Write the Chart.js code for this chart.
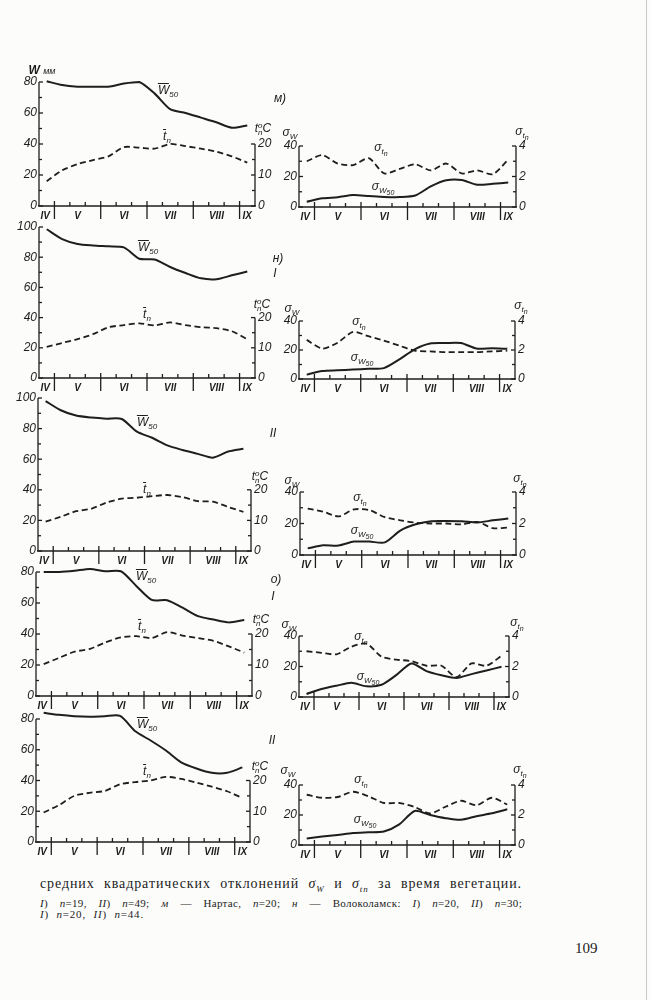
<!DOCTYPE html>
<html lang="ru">
<head>
<meta charset="utf-8">
<script src="https://cdn.jsdelivr.net/npm/chart.js@4.4.1/dist/chart.umd.min.js"></script>
<style>
  body { margin: 0; background: #fff; }
  #page { position: relative; width: 650px; height: 1000px; background: #fcfcfb; overflow: hidden;
          font-family: "Liberation Sans", Arial, sans-serif; color: #1c1c1c; }
  #page canvas { position: absolute; }
  .note { position: absolute; transform: translate(-50%, -50%); font-style: italic; font-size: 12px;
          white-space: nowrap; line-height: 1; }
  .note sub { font-size: 8px; vertical-align: -3px; }
  .ss { font-size: 7px; position: relative; top: 2px; }
  .ov { display: inline-block; border-top: 1px solid #1e1e1e; line-height: 0.95; padding-top: 1px; }
  .deg { display: inline-block; vertical-align: middle; font-size: 8px; line-height: 7px; text-align: left; }
  .cap { position: absolute; left: 40px; width: 482px; font-family: "Liberation Serif", "DejaVu Serif", serif;
         text-align: justify; text-align-last: justify; white-space: nowrap; }
  .cap sub { font-size: 9px; }
  .edge { position: absolute; left: 646px; top: 0; width: 1px; height: 1000px; background: #c8c8c8; }
</style>
</head>
<body>
<div id="page"></div>
<script>
const INK = '#1e1e1e';

// decade midpoints, counted from 1 April (3 decades per month)
const decades = [2.5, 3.5, 4.5, 5.5, 6.5, 7.5, 8.5, 9.5, 10.5, 11.5, 12.5, 13.5, 14.5, 15.5];
const monthNames = ['IV', 'V', 'VI', 'VII', 'VIII', 'IX'];
const monthCentres = [2.4, 4.5, 7.5, 10.5, 13.5, 15.5];
const monthStarts = [3, 6, 9, 12, 15];

const wTicks80 = [0, 20, 40, 60, 80];
const wTicks100 = [0, 20, 40, 60, 80, 100];
const tTicks = [0, 10, 20];
const swTicks = [0, 20, 40];
const stTicks = [0, 2, 4];

// м) Нартас
const w50_m = [80.5, 78, 77, 77, 77, 79, 80, 72.5, 62.5, 60, 57, 54, 50.5, 52];
const tn_m  = [8, 11.5, 13.5, 14.8, 16, 19, 18.8, 18.5, 20, 19.3, 18.5, 17.5, 16, 14];
const sw_m  = [3.5, 5.7, 6.4, 7.8, 7.2, 6.6, 6.5, 7.5, 13.5, 17.5, 17.7, 14.6, 15.2, 16];
const st_m  = [3.0, 3.4, 2.85, 2.75, 3.2, 2.2, 2.5, 2.8, 2.4, 2.85, 2.2, 2.4, 2.15, 3.1];

// н) Волоколамск, I
const w50_n1 = [98.5, 92, 88.8, 87.8, 87.2, 86.5, 79, 78.5, 73.5, 69.5, 66, 65.4, 68, 70.5];
const tn_n1  = [10.3, 11.6, 12.9, 14.5, 16.8, 17.5, 18.1, 17.4, 18.4, 17.5, 16.8, 16.5, 15.5, 12.8];
const sw_n1  = [3, 5.5, 6, 6.5, 7, 7.5, 13.5, 20.5, 24.5, 24.8, 24.8, 21, 21.2, 20.8];
const st_n1  = [2.7, 2.1, 2.5, 3.25, 2.95, 2.65, 2.3, 1.95, 1.9, 1.85, 1.85, 1.85, 1.9, 1.95];

// н) Волоколамск, II
const w50_n2 = [98, 92, 88.5, 87.2, 86.5, 86.3, 78, 74, 69, 66, 63.5, 61, 65, 66.8];
const tn_n2  = [9.6, 11.2, 13, 13.8, 15.8, 17.1, 17.4, 17.9, 18.3, 17.6, 16.3, 16.1, 14.4, 12.8];
const sw_n2  = [4.2, 6.2, 6, 8.5, 8.5, 8, 15.5, 19.5, 21.5, 21.6, 21.4, 20.6, 22, 23.2];
const st_n2  = [2.95, 2.75, 2.45, 2.9, 2.85, 2.4, 2.2, 2.05, 2.0, 2.0, 1.95, 2.1, 1.7, 1.75];

// о) I
const w50_o1 = [80, 80, 80.8, 82, 80.5, 80.5, 71, 62, 61.8, 57, 51.5, 49.3, 47.5, 49];
const tn_o1  = [10.3, 12.3, 14.3, 15.2, 17.3, 18.9, 19.3, 18.7, 20.6, 19.5, 18.7, 17.8, 16, 14];
const sw_o1  = [2, 5.2, 7.4, 9.3, 7, 8, 14.5, 22, 17, 14.3, 12.5, 15, 17.4, 19.8];
const st_o1  = [3.0, 2.9, 2.8, 3.3, 3.5, 2.65, 2.45, 2.35, 2.05, 2.05, 1.3, 2.2, 2.05, 2.7];

// о) II
const w50_o2 = [84, 82.7, 81.8, 81.5, 81.8, 82, 72, 66, 59.5, 51.8, 47.8, 45, 45, 48.5];
const tn_o2  = [9.6, 12, 15, 16, 16.6, 18.8, 19.5, 20, 21.2, 20.5, 19.3, 18, 16.5, 14.3];
const sw_o2  = [4.3, 5.6, 6.7, 8, 8.5, 9, 13.8, 22.7, 20, 17.9, 16.8, 19.2, 21.1, 23.8];
const st_o2  = [3.35, 3.15, 3.2, 3.55, 3.25, 2.8, 2.8, 2.53, 2.1, 2.55, 2.95, 2.65, 3.15, 2.7];

// plot boxes on the page: [left, top, right, bottom]
const panels = [
  { kind: 'mean', top: 80,  box: [39, 82, 255, 206],  solid: w50_m,  dashed: tn_m },
  { kind: 'sd',   top: 40,  box: [299, 146, 516, 207], solid: sw_m,   dashed: st_m },
  { kind: 'mean', top: 100, box: [39, 227, 255, 378],  solid: w50_n1, dashed: tn_n1 },
  { kind: 'sd',   top: 40,  box: [299, 321, 515, 379], solid: sw_n1,  dashed: st_n1 },
  { kind: 'mean', top: 100, box: [38, 398, 251, 551],  solid: w50_n2, dashed: tn_n2 },
  { kind: 'sd',   top: 40,  box: [300, 492, 516, 555], solid: sw_n2,  dashed: st_n2 },
  { kind: 'mean', top: 80,  box: [36, 572, 252, 696],  solid: w50_o1, dashed: tn_o1 },
  { kind: 'sd',   top: 40,  box: [299, 636, 509, 697], solid: sw_o1,  dashed: st_o1 },
  { kind: 'mean', top: 80,  box: [36, 719, 250, 842],  solid: w50_o2, dashed: tn_o2 },
  { kind: 'sd',   top: 40,  box: [299, 785, 515, 845], solid: sw_o2,  dashed: st_o2 }
];

const paperAxes = {
  id: 'paperAxes',
  afterDraw(chart, args, o) {
    const { ctx, chartArea: a, scales: { x, y, yt } } = chart;
    const leftTicks = o.kind === 'mean' ? (o.top === 100 ? wTicks100 : wTicks80) : swTicks;
    const rightTicks = o.kind === 'mean' ? tTicks : stTicks;
    const seg = (x1, y1, x2, y2) => { ctx.beginPath(); ctx.moveTo(x1, y1); ctx.lineTo(x2, y2); ctx.stroke(); };
    ctx.save();
    ctx.strokeStyle = INK;
    ctx.fillStyle = INK;
    ctx.lineWidth = 1.3;
    seg(a.left - 1, a.bottom, a.right + 1, a.bottom);
    seg(a.left, a.bottom, a.left, y.getPixelForValue(leftTicks[leftTicks.length - 1]));
    seg(a.right, a.bottom, a.right, yt.getPixelForValue(rightTicks[rightTicks.length - 1]));

    ctx.font = 'italic 12px "Liberation Sans", sans-serif';
    ctx.textBaseline = 'middle';
    ctx.textAlign = 'right';
    leftTicks.forEach((v, i) => {
      const py = y.getPixelForValue(v);
      seg(a.left, py, a.left + 4, py);
      ctx.fillText(String(v), a.left - 2, py);
      if (i > 0) {
        const m = y.getPixelForValue((v + leftTicks[i - 1]) / 2);
        seg(a.left, m, a.left + 3, m);
      }
    });
    ctx.textAlign = 'left';
    rightTicks.forEach((v, i) => {
      const py = yt.getPixelForValue(v);
      seg(a.right - 4, py, a.right, py);
      ctx.fillText(String(v), a.right + 3, py);
      if (i > 0) {
        const m = yt.getPixelForValue((v + rightTicks[i - 1]) / 2);
        seg(a.right - 3, m, a.right, m);
      }
    });

    for (let d = Math.floor(x.min) + 1; d < x.max; d++) {
      const px = x.getPixelForValue(d);
      if (monthStarts.includes(d)) seg(px, a.bottom - 5, px, a.bottom + 13);
      else seg(px, a.bottom - 4, px, a.bottom);
    }
    ctx.font = 'italic bold 10px "Liberation Sans", sans-serif';
    ctx.textAlign = 'center';
    monthNames.forEach((m, i) => ctx.fillText(m, x.getPixelForValue(monthCentres[i]), a.bottom + 10));
    ctx.restore();
  }
};

const page = document.getElementById('page');
const pad = { left: 30, right: 30, top: 14, bottom: 22 };

panels.forEach(p => {
  const [l, t, r, b] = p.box;
  const cv = document.createElement('canvas');
  const w = r - l + pad.left + pad.right;
  const h = b - t + pad.top + pad.bottom;
  cv.width = w; cv.height = h;
  cv.style.left = (l - pad.left) + 'px';
  cv.style.top = (t - pad.top) + 'px';
  cv.style.width = w + 'px';
  cv.style.height = h + 'px';
  page.appendChild(cv);

  const pts = vals => decades.map((d, i) => ({ x: d, y: vals[i] }));
  new Chart(cv.getContext('2d'), {
    type: 'line',
    data: {
      datasets: [
        { data: pts(p.solid), yAxisID: 'y', borderColor: INK, borderWidth: 2,
          pointRadius: 0, tension: 0.25, clip: false },
        { data: pts(p.dashed), yAxisID: 'yt', borderColor: INK, borderWidth: 1.8,
          borderDash: [6, 3.5], pointRadius: 0, tension: 0.25, clip: false }
      ]
    },
    options: {
      responsive: false,
      animation: false,
      events: [],
      layout: { padding: pad },
      scales: {
        x: { type: 'linear', min: 2, max: 16, display: false },
        y: { min: 0, max: p.top, display: false },
        yt: { min: 0, max: p.kind === 'mean' ? p.top / 2 : 4, display: false }
      },
      plugins: {
        legend: { display: false },
        tooltip: { enabled: false },
        paperAxes: { kind: p.kind, top: p.top }
      }
    },
    plugins: [paperAxes]
  });
});

const W50 = '<span class="ov">W</span><sub>50</sub>';
const TN = '<span class="ov">t</span><sub>n</sub>';
const TNC = 't<span class="deg">o<br>n</span>C';
const SW = 'σ<sub>W</sub>';
const ST = 'σ<sub>t<span class="ss">n</span></sub>';
const SW50 = 'σ<sub>W<span class="ss">50</span></sub>';

const notes = [
  [42, 70, '<b>W</b> <span style="font-size:9px">мм</span>'],
  [280, 98, 'м)'],
  [168, 91, W50], [167, 137, TN], [263, 129, TNC],
  [290, 133, SW], [522, 132, ST], [381, 148, ST], [383, 187, SW50],
  [278, 258, 'н)'], [275, 273, 'I'],
  [148, 248, W50], [147, 315, TN], [262, 305, TNC],
  [292, 309, SW], [521, 306, ST], [359, 322, ST], [362, 358, SW50],
  [273, 433, 'II'],
  [147, 423, W50], [147, 490, TN], [260, 477, TNC],
  [292, 481, SW], [520, 479, ST], [360, 498, ST], [362, 531, SW50],
  [276, 579, 'о)'], [273, 596, 'I'],
  [146, 577, W50], [142, 627, TN], [261, 620, TNC],
  [289, 625, SW], [517, 623, ST], [361, 637, ST], [368, 677, SW50],
  [272, 740, 'II'],
  [147, 725, W50], [147, 772, TN], [260, 767, TNC],
  [288, 771, SW], [520, 770, ST], [361, 780, ST], [365, 820, SW50]
];
notes.forEach(([x, y, html]) => {
  const d = document.createElement('div');
  d.className = 'note';
  d.style.left = x + 'px';
  d.style.top = y + 'px';
  d.innerHTML = html;
  page.appendChild(d);
});

const captions = [
  { top: 876, size: 14, spacing: 0.9, html: 'средних квадратических отклонений <i>σ<sub>W</sub></i> и <i>σ<sub>tn</sub></i> за время вегетации.' },
  { top: 897, size: 11, spacing: 0.3, html: '<i>I</i>) <i>n</i>=19, <i>II</i>) <i>n</i>=49; <i>м</i> — Нартас, <i>n</i>=20; <i>н</i> — Волоколамск: <i>I</i>) <i>n</i>=20, <i>II</i>) <i>n</i>=30;' },
  { top: 908, size: 11, spacing: 0.8, html: '<i>I</i>) <i>n</i>=20, <i>II</i>) <i>n</i>=44.', plain: true }
];
captions.forEach(c => {
  const d = document.createElement('div');
  d.className = 'cap';
  d.style.top = c.top + 'px';
  d.style.fontSize = c.size + 'px';
  d.style.letterSpacing = c.spacing + 'px';
  if (c.plain) { d.style.textAlign = 'left'; d.style.textAlignLast = 'left'; d.style.wordSpacing = '4px'; }
  d.innerHTML = c.html;
  page.appendChild(d);
});

const num = document.createElement('div');
num.className = 'cap';
num.style.cssText = 'left:575px;top:940px;width:auto;font-size:15px;text-align:left;text-align-last:left;';
num.textContent = '109';
page.appendChild(num);

const edge = document.createElement('div');
edge.className = 'edge';
page.appendChild(edge);
</script>
</body>
</html>
